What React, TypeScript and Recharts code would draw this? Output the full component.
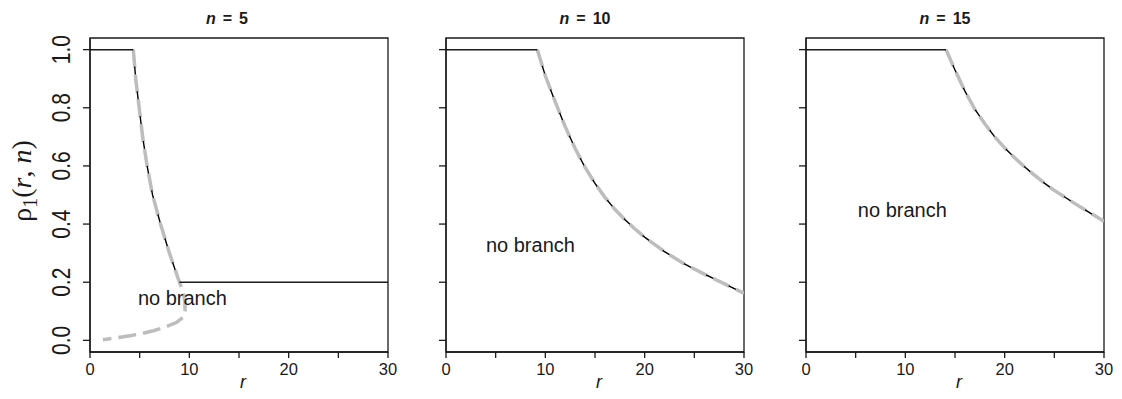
import React from 'react';
import { LineChart, Line, XAxis, YAxis, ReferenceDot, ReferenceArea } from 'recharts';

const FONT = '"Liberation Sans", Arial, Helvetica, sans-serif';
const SERIF = '"Liberation Serif", "Times New Roman", serif';

const panelN = ['5', '10', '15'];
const xTicks = [0, 5, 10, 15, 20, 25, 30];
const xLabelTicks = [0, 10, 20, 30];
const yTicks = [0, 0.2, 0.4, 0.6, 0.8, 1.0];

// n = 5
const n5TopR = [0, 4.36];
const n5TopV = [1, 1];
const n5CurveR = [4.36, 4.6, 4.95, 5.3, 5.75, 6.3, 7.1, 8.0, 8.5, 9.0];
const n5CurveV = [1.0, 0.9, 0.8, 0.7, 0.6, 0.5, 0.4, 0.3, 0.25, 0.2];
const n5FlatR = [9.0, 30];
const n5FlatV = [0.2, 0.2];
const n5LowerR = [9.4, 9.55, 9.57, 9.4, 8.73, 7.5, 6.38, 5.0, 4.03, 2.5, 1.3];
const n5LowerV = [0.165, 0.13, 0.1, 0.08, 0.062, 0.045, 0.033, 0.022, 0.016, 0.008, 0.002];

// n = 10
const n10TopR = [0, 9.19];
const n10TopV = [1, 1];
const n10CurveR = [9.19, 10, 11, 12, 13, 14, 15, 16, 17, 18, 19, 20, 22, 24, 26, 28, 30];
const n10CurveV = [1.0, 0.91, 0.82, 0.735, 0.66, 0.595, 0.54, 0.492, 0.451, 0.416, 0.384, 0.355, 0.305, 0.263, 0.228, 0.195, 0.162];

// n = 15
const n15TopR = [0, 14.1];
const n15TopV = [1, 1];
const n15CurveR = [14.1, 15, 16, 17, 18, 19, 20, 21, 22, 23, 24, 25, 26, 27, 28, 29, 30];
const n15CurveV = [1.0, 0.93, 0.857, 0.795, 0.745, 0.7, 0.662, 0.628, 0.597, 0.568, 0.541, 0.516, 0.494, 0.472, 0.451, 0.43, 0.41];

// "no branch" annotation positions
const noBranchR = [9.3, 8.5, 9.7];
const noBranchV = [0.145, 0.327, 0.449];

const pts = (rs: number[], vs: number[]) => rs.map((r, i) => ({ r, v: vs[i] }));

const panels = [
  {
    left: 0, width: 400, yWidth: 90, marginRight: 12, labels: true,
    gray: pts([...n5CurveR, ...n5LowerR], [...n5CurveV, ...n5LowerV]),
    solids: [pts(n5TopR, n5TopV), pts(n5FlatR, n5FlatV)],
    dashed: pts(n5CurveR, n5CurveV),
  },
  {
    left: 400, width: 360, yWidth: 46, marginRight: 16, labels: false,
    gray: pts(n10CurveR, n10CurveV),
    solids: [pts(n10TopR, n10TopV)],
    dashed: pts(n10CurveR, n10CurveV),
  },
  {
    left: 760, width: 362, yWidth: 46, marginRight: 18, labels: false,
    gray: pts(n15CurveR, n15CurveV),
    solids: [pts(n15TopR, n15TopV)],
    dashed: pts(n15CurveR, n15CurveV),
  },
];

const INK = '#1a1a1a';
const GRAY = '#bdbdbd';
const Y_DOMAIN: [number, number] = [-0.04, 1.04];
const X_DOMAIN: [number, number] = [0, 30];

const YTickLabel = (props: any) => {
  const { x, y, payload } = props;
  return (
    <text
      transform={`translate(${x - 11},${y}) rotate(-90) scale(1,1.2)`}
      textAnchor="middle"
      fontSize={21}
      fill={INK}
      fontFamily={FONT}
    >
      {Number(payload.value).toFixed(1)}
    </text>
  );
};
const EmptyTick = () => <g />;

const XTickLabel = (props: any) => {
  const { x, y, payload } = props;
  if (!xLabelTicks.includes(payload.value)) return <g />;
  return (
    <text x={x} y={y + 15} textAnchor="middle" fontSize={16.5} fill={INK} fontFamily={FONT}>
      {payload.value}
    </text>
  );
};

const Panel = ({ p, idx }: { p: any; idx: number }) => (
  <div style={{ position: 'absolute', left: p.left, top: 0 }}>
    <LineChart width={p.width} height={399} margin={{ top: 38, right: p.marginRight, bottom: 0, left: 0 }}>
      <XAxis
        dataKey="r"
        type="number"
        domain={X_DOMAIN}
        allowDataOverflow
        ticks={xTicks}
        interval={0}
        tickSize={6}
        height={47}
        axisLine={{ stroke: INK, strokeWidth: 1.3 }}
        tickLine={{ stroke: INK, strokeWidth: 1.3 }}
        tick={XTickLabel}
      />
      <YAxis
        type="number"
        domain={Y_DOMAIN}
        allowDataOverflow
        ticks={yTicks}
        interval={0}
        tickSize={7}
        width={p.yWidth}
        axisLine={{ stroke: INK, strokeWidth: 1.3 }}
        tickLine={{ stroke: INK, strokeWidth: 1.3 }}
        tick={p.labels ? YTickLabel : EmptyTick}
      />
      <ReferenceArea
        x1={X_DOMAIN[0]}
        x2={X_DOMAIN[1]}
        y1={Y_DOMAIN[0]}
        y2={Y_DOMAIN[1]}
        fill="none"
        fillOpacity={0}
        stroke={INK}
        strokeWidth={1.3}
        strokeOpacity={1}
      />
      <Line
        data={p.gray}
        dataKey="v"
        type="linear"
        stroke={GRAY}
        strokeWidth={3.5}
        strokeDasharray="18 7"
        dot={false}
        activeDot={false}
        isAnimationActive={false}
      />
      {p.solids.map((s: any, i: number) => (
        <Line
          key={i}
          data={s}
          dataKey="v"
          type="linear"
          stroke={INK}
          strokeWidth={1.5}
          dot={false}
          activeDot={false}
          isAnimationActive={false}
        />
      ))}
      <Line
        data={p.dashed}
        dataKey="v"
        type="linear"
        stroke="#000"
        strokeWidth={1.4}
        strokeDasharray="8 17"
        strokeDashoffset={8}
        dot={false}
        activeDot={false}
        isAnimationActive={false}
      />
      <ReferenceDot
        x={noBranchR[idx]}
        y={noBranchV[idx]}
        r={0}
        fill="none"
        stroke="none"
        label={{ value: 'no branch', position: 'center', fontSize: 20, fill: INK, fontFamily: FONT }}
      />
    </LineChart>
  </div>
);

const titleCenters = [227, 585, 945];
const rLabelCenters = [243, 599, 959];

export default function App() {
  return (
    <div style={{ position: 'absolute', left: 0, top: 0, width: 1122, height: 399, background: '#fff' }}>
      {panels.map((p, i) => (
        <Panel key={i} p={p} idx={i} />
      ))}
      <svg
        width={1122}
        height={399}
        style={{ position: 'absolute', left: 0, top: 0, pointerEvents: 'none' }}
      >
        {panelN.map((n, i) => (
          <text
            key={n}
            x={titleCenters[i]}
            y={24}
            textAnchor="middle"
            fontSize={16}
            fontWeight="bold"
            fill={INK}
            fontFamily={FONT}
          >
            <tspan fontStyle="italic">n</tspan>
            <tspan dx={7}>=</tspan>
            <tspan dx={7}>{n}</tspan>
          </text>
        ))}
        {rLabelCenters.map((cx, i) => (
          <text
            key={i}
            x={cx}
            y={388}
            textAnchor="middle"
            fontSize={18}
            fontStyle="italic"
            fill={INK}
            fontFamily={FONT}
          >
            r
          </text>
        ))}
        <text
          transform="translate(31,181) rotate(-90)"
          textAnchor="middle"
          fontSize={28}
          fill={INK}
          fontFamily={SERIF}
        >
          <tspan>ρ</tspan>
          <tspan fontSize={20} dy={6}>1</tspan>
          <tspan dy={-6}>(</tspan>
          <tspan fontStyle="italic">r</tspan>
          <tspan>, </tspan>
          <tspan fontStyle="italic">n</tspan>
          <tspan>)</tspan>
        </text>
      </svg>
    </div>
  );
}
